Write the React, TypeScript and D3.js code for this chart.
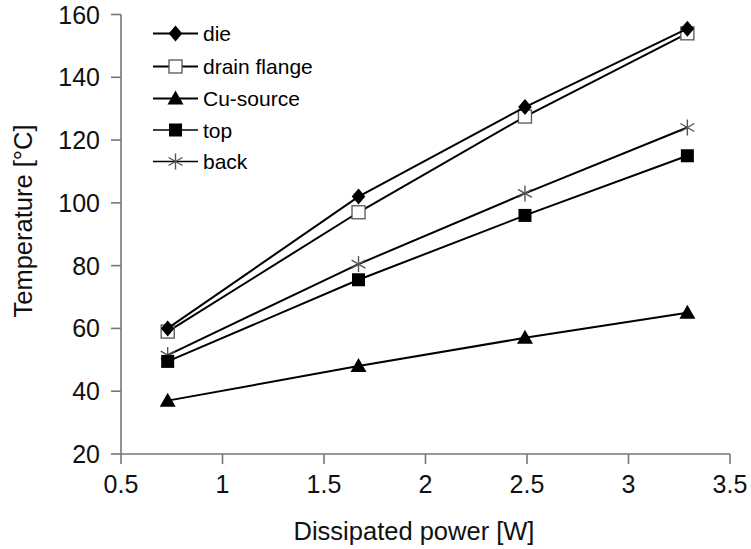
import React from "react";
import * as d3 from "d3";

const powerW = [0.73, 1.67, 2.49, 3.29];
const dieT = [60, 102, 130.5, 155.5];
const drainT = [59, 97, 127.5, 154];
const cuT = [37, 48, 57, 65];
const topT = [49.5, 75.5, 96, 115];
const backT = [51.5, 80.5, 103, 124];
const seriesNames = ["die", "drain flange", "Cu-source", "top", "back"];
const markerKinds = ["diamond", "openSquare", "triangle", "square", "star"];
const xTicks = [0.5, 1, 1.5, 2, 2.5, 3, 3.5];
const yTicks = [20, 40, 60, 80, 100, 120, 140, 160];

const W = 751, H = 549;
const FONT = "'Liberation Sans', Arial, Helvetica, sans-serif";

function Marker({ kind, x, y }: { kind: string; x: number; y: number }) {
  if (kind === "diamond") {
    const r = 8;
    return <path d={`M${x},${y - r}L${x + r * 0.85},${y}L${x},${y + r}L${x - r * 0.85},${y}Z`} fill="#000" />;
  }
  if (kind === "openSquare") {
    const r = 6.5;
    return <rect x={x - r} y={y - r} width={2 * r} height={2 * r} fill="#fff" stroke="#555" strokeWidth={1.3} />;
  }
  if (kind === "triangle") {
    const r = 8;
    return <path d={`M${x},${y - r}L${x + r},${y + r * 0.75}L${x - r},${y + r * 0.75}Z`} fill="#000" />;
  }
  if (kind === "square") {
    const r = 6.5;
    return <rect x={x - r} y={y - r} width={2 * r} height={2 * r} fill="#000" />;
  }
  const r = 8;
  const a = Math.cos(Math.PI / 6) * r;
  const b = Math.sin(Math.PI / 6) * r;
  return (
    <g stroke="#555" strokeWidth={1.4}>
      <line x1={x} y1={y - r} x2={x} y2={y + r} />
      <line x1={x - a} y1={y - b} x2={x + a} y2={y + b} />
      <line x1={x - a} y1={y + b} x2={x + a} y2={y - b} />
    </g>
  );
}

export default function App() {
  const x = d3.scaleLinear().domain([0.5, 3.5]).range([121, 730]);
  const y = d3.scaleLinear().domain([20, 160]).range([454, 14.5]);
  const allSeries = [dieT, drainT, cuT, topT, backT];
  const line = d3
    .line<[number, number]>()
    .x((d) => x(d[0]))
    .y((d) => y(d[1]));

  const legendY = [33.5, 66.5, 98.5, 130, 161.5];
  const order = [4, 3, 2, 1, 0];

  return (
    <svg
      width={W}
      height={H}
      style={{ position: "absolute", left: 0, top: 0, background: "#fff" }}
      fontFamily={FONT}
    >
      <rect width={W} height={H} fill="#fff" />
      <line x1={x(0.5)} y1={y(20)} x2={x(0.5)} y2={y(160)} stroke="#777" strokeWidth={1.6} />
      <line x1={x(0.5)} y1={y(20)} x2={x(3.5)} y2={y(20)} stroke="#777" strokeWidth={1.6} />
      {yTicks.map((t) => (
        <g key={"y" + t}>
          <line x1={x(0.5) - 10} x2={x(0.5)} y1={y(t)} y2={y(t)} stroke="#777" strokeWidth={1.6} />
          <text x={100} y={y(t) + 9} textAnchor="end" fontSize={25} fill="#111">
            {t}
          </text>
        </g>
      ))}
      {xTicks.map((t) => (
        <g key={"x" + t}>
          <line x1={x(t)} x2={x(t)} y1={y(20)} y2={y(20) + 10} stroke="#777" strokeWidth={1.6} />
          <text x={x(t)} y={493} textAnchor="middle" fontSize={25} fill="#111">
            {t}
          </text>
        </g>
      ))}
      <text x={414} y={540} textAnchor="middle" fontSize={25.5} fill="#111">
        Dissipated power [W]
      </text>
      <text transform={`translate(32,221) rotate(-90)`} textAnchor="middle" fontSize={25.5} fill="#111">
        Temperature [°C]
      </text>

      {order.map((i) => {
        const s = allSeries[i];
        const pts = powerW.map((p, j) => [p, s[j]] as [number, number]);
        return (
          <g key={"s" + i}>
            <path d={line(pts) || ""} fill="none" stroke="#000" strokeWidth={2} />
            {pts.map((p, j) => (
              <Marker key={j} kind={markerKinds[i]} x={x(p[0])} y={y(p[1])} />
            ))}
          </g>
        );
      })}

      {seriesNames.map((n, i) => (
        <g key={"l" + i}>
          <line x1={153} x2={198} y1={legendY[i]} y2={legendY[i]} stroke="#000" strokeWidth={i >= 3 ? 1.5 : 2} />
          <Marker kind={markerKinds[i]} x={175.5} y={legendY[i]} />
          <text x={203} y={legendY[i] + 7.5} fontSize={21} fill="#000">
            {n}
          </text>
        </g>
      ))}
    </svg>
  );
}
